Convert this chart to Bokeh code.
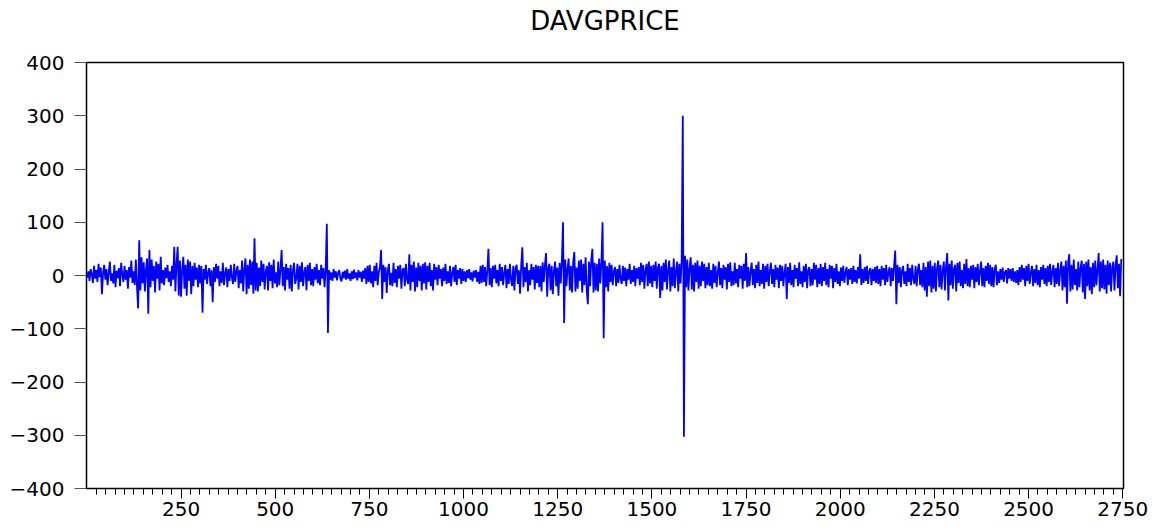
from bokeh.plotting import figure
from bokeh.models import Range1d, FixedTicker, ColumnDataSource, LinearAxis
from bokeh.embed import file_html
from bokeh.resources import INLINE

title_text = "DAVGPRICE"
step = 3
r0 = [-4, 8, -10, 12, 3, -14, 18, -6, 10, -12, 22, -3, 15, -35, 6, 20, -8, 12, -18, 5,
      26, -10, 4, -15, 20, -22, 9, -5, 14, -20, 24, 2, -12, 18, -8, 10, -25, 16, -4, 28,
      -14, 8, -18, 30, -20, -62, 66, -28, 34, -15]
r1 = [25, -30, 12, 32, -72, 48, -22, 30, -10, 18, -32, 26, -6, 22, -28, 35, -15, 10, -18, 15,
      -5, 20, -12, 8, -20, 18, -8, 54, -30, 22, 54, -38, 28, -40, 12, 35, -25, 20, -38, 30,
      -10, 26, -35, 18, -20, 24, -8, 15, -22, 20]
r2 = [-15, 18, -70, 12, -8, 20, -16, 6, 14, -20, 10, -50, 16, -12, 22, -6, 18, -20, 8, -14,
      24, -18, 5, 15, -22, 12, -10, 20, -4, -16, 22, -12, 8, 18, -24, 10, -15, 28, -30, 12,
      32, -35, 20, -25, 30, -18, 26, -34, 70, -28]
r3 = [24, -30, 15, -20, 28, -12, 22, -26, 8, 18, -28, 25, -10, 20, -24, 30, -15, 6, -22, 26,
      -18, 12, 48, -20, 16, -28, 22, -8, 14, -25, 20, -30, 10, 24, -16, -5, 22, -26, 18, -12,
      25, -20, 6, 16, -28, 20, -10, 24, -18, 12]
r4 = [-20, 16, -8, 22, -15, 10, -18, 20, -6, 14, -22, 12, 97, -108, 10, -8, 6, -10, 12, -4,
      8, -9, 5, 10, -6, -11, 7, -5, 9, -8, 12, -6, 4, -10, 8, -7, 11, -5, 6, -9,
      10, -4, 7, -12, 9, -6, 14, -16, 18, -12]
r5 = [20, -15, 8, -22, 18, -10, 24, -18, 6, 15, 48, -44, 20, -12, 16, -33, 10, 22, -18, 5,
      -20, 24, -14, 12, -22, 18, -6, 20, -25, 10, 14, -20, 22, -8, -16, 40, -28, 20, -12, 26,
      -30, 15, -22, 24, -10, 18, -28, 22, -15, 25]
r6 = [-26, 18, -12, 24, -20, 10, -28, 22, -8, 16, -18, 20, -6, 12, -20, 15, -10, 22, -16, 8,
      -14, 18, -20, 5, 16, -12, 20, -18, 10, -6, 14, -16, 12, -10, 8, -12, 10, -5, 12, -8,
      6, -11, 9, -4, 10, -12, 7, -16, 18, -14]
r7 = [20, -12, 16, -20, 8, 50, -18, 14, -22, 18, -6, 20, -15, 10, -20, 22, -10, 16, -18, 5,
      20, -24, 12, -16, 22, -8, -20, 18, -28, 14, 20, -16, 10, -34, 18, 53, -22, 16, -12, 24,
      -30, 10, -18, 22, -8, 16, -26, 20, -14, 18]
r8 = [-22, 18, -30, 25, -12, 20, 42, -40, 14, 22, -28, 18, -35, 10, 26, -20, 15, -38, 24, -15,
      28, 100, -89, 30, -20, 12, 32, -28, 18, -32, 25, 44, -30, 15, -25, 28, -10, 30, -32, 22,
      -18, 34, -28, -54, 26, -20, 30, 50, -32, 24]
r9 = [-28, 22, -30, 32, -15, 25, 100, -118, 28, -22, 18, -30, 24, -12, 20, -18, 8, 16, -20, 12,
      -14, 20, -6, -16, 18, -10, 15, -20, 12, -8, 22, -16, 10, -12, 18, -20, 14, -6, 16, -18,
      24, -12, 20, -25, 10, 22, -20, 26, -15, 18]
r10 = [-22, 20, -10, 26, -25, 15, 22, -42, 18, -28, 24, -12, 30, -26, 10, 28, -30, 16, -20, 32,
       -24, 8, 26, -30, 22, -15, 28, 300, -303, 37, -22, 30, -28, 14, 34, -26, 20, -30, 24, -12,
       28, -25, 18, -20, 26, -10, 22, -24, 16, -18]
r11 = [24, -20, 10, -25, 22, -14, 18, -22, 6, 26, -18, 14, -24, 20, -8, 16, -26, 22, -12, 25,
       -20, 8, -18, 24, -15, 12, -22, 20, -6, 18, -25, 22, -10, 42, -22, 16, -20, 8, 24, -18,
       12, -24, 20, -14, 26, -20, 10, -16, 22, -25]
r12 = [18, -12, 22, -20, 8, 24, -16, 12, -22, 20, -8, 15, -24, 20, -10, 18, -20, 6, 22, -44,
       16, -14, 24, -18, 10, -22, 20, -6, 14, -20, 25, -16, 8, -22, 18, -12, 22, -24, 10, 16,
       -20, 12, -18, 24, -8, 20, -22, 14, -16, 22]
r13 = [-20, 16, -10, 24, -18, 12, -22, 20, -6, 18, -24, 14, -12, 22, -16, 8, -20, 15, -10, 18,
       -14, 6, 16, -18, 12, -8, 14, -16, 18, -12, 10, -15, 16, -6, 40, -18, 12, -14, 16, -10,
       18, -16, 8, 14, -18, 12, -10, 16, -14, 18]
r14 = [-16, 12, -20, 18, -8, 14, -18, 20, -12, 6, 16, -20, 14, -10, 18, 47, -54, 20, -14, 16,
       -22, 10, 18, -16, 8, -20, 22, -12, 14, -18, 20, -6, -16, 18, -20, 12, 22, -18, 10, -22,
       24, -28, 16, -40, 26, -20, 28, -32, 18, -25]
r15 = [24, -30, 14, 28, -22, 20, -26, 10, 26, -28, 18, 42, -47, 22, -18, 28, -25, 12, 20, -30,
       24, -14, 26, -20, 10, -24, 22, -16, 31, -20, 14, -22, 18, -8, 20, -24, 16, -12, 22, -18,
       8, 26, -20, 14, -22, 18, -10, 24, -16, 20]
r16 = [-20, 16, -22, 12, 20, -18, 8, -14, 12, -8, 15, -12, 6, 10, -15, 14, -6, 12, -10, 14,
       -12, 8, -14, 10, -18, 16, -12, 20, -8, 14, -20, 18, -10, 22, -16, 6, 18, -20, 12, -14,
       20, -18, 10, -22, 16, -8, 20, -16, 14, -20]
r17 = [18, -12, 22, -18, 8, 20, -22, 14, -16, 24, -20, 10, 26, -28, 18, -22, 28, -53, 24, 40,
       -30, 20, -26, 30, -18, 12, -28, 26, -22, 14, 28, -32, 22, -44, 26, -20, 30, -28, 16, -35,
       24, -22, 28, -18, 10, 42, -30, 26, -24, 30]
r18 = [-26, 20, -34, 28, -18, 24, -30, 16, 26, -28, 20, 38, -24, 22, -39, 31]

values = (r0 + r1 + r2 + r3 + r4 + r5 + r6 + r7 + r8 + r9 + r10 + r11 + r12 + r13 + r14
          + r15 + r16 + r17 + r18)
obs = [step * i + 1 for i in range(len(values))]

y_ticks = [-400, -300, -200, -100, 0, 100, 200, 300, 400]
x_ticks = [250, 500, 750, 1000, 1250, 1500, 1750, 2000, 2250, 2500, 2750]
x_minor = [v for v in range(25, 2751, 25) if v not in x_ticks]

src = ColumnDataSource(dict(x=obs, y=values))

p = figure(width=1162, height=529, output_backend="svg", toolbar_location=None,
           x_range=Range1d(-1, 2752), y_range=Range1d(-400, 400),
           min_border_left=86, min_border_right=39, min_border_top=62, min_border_bottom=41)

p.line("x", "y", source=src, line_color="#0000FF", line_width=1.8)

p.grid.visible = False
p.background_fill_color = "white"
p.border_fill_color = "white"
p.outline_line_color = "black"
p.outline_line_width = 1.5

xa = p.below[0]
xa.ticker = FixedTicker(ticks=x_ticks, minor_ticks=x_minor)
xa.major_tick_out = 10
xa.major_tick_in = 0
xa.minor_tick_out = 6
xa.minor_tick_in = 0
xa.major_label_standoff = 3
xa.major_label_text_font = "DejaVu Sans"
xa.major_label_text_font_size = "20px"
xa.major_label_text_color = "black"
xa.axis_line_color = "black"

ya = p.left[0]
ya.ticker = FixedTicker(ticks=y_ticks)
ya.major_tick_out = 12
ya.major_tick_in = 0
ya.minor_tick_out = 0
ya.minor_tick_in = 0
ya.major_label_standoff = 10
ya.major_label_text_font = "DejaVu Sans"
ya.major_label_text_font_size = "20px"
ya.major_label_text_color = "black"
ya.axis_line_color = "black"
ya.major_tick_line_color = "#555555"

# title: label of a tick-less axis above the frame
top = LinearAxis(ticker=FixedTicker(ticks=[]), axis_label=title_text,
                 axis_line_color=None, major_tick_out=0, major_tick_in=0,
                 minor_tick_out=0, minor_tick_in=0, major_label_standoff=0,
                 major_label_text_font_size="0px",
                 axis_label_standoff=27, axis_label_text_font="DejaVu Sans",
                 axis_label_text_font_size="26px", axis_label_text_font_style="normal",
                 axis_label_text_color="black")
p.add_layout(top, "above")

open("out.html", "w").write(file_html(p, INLINE))
